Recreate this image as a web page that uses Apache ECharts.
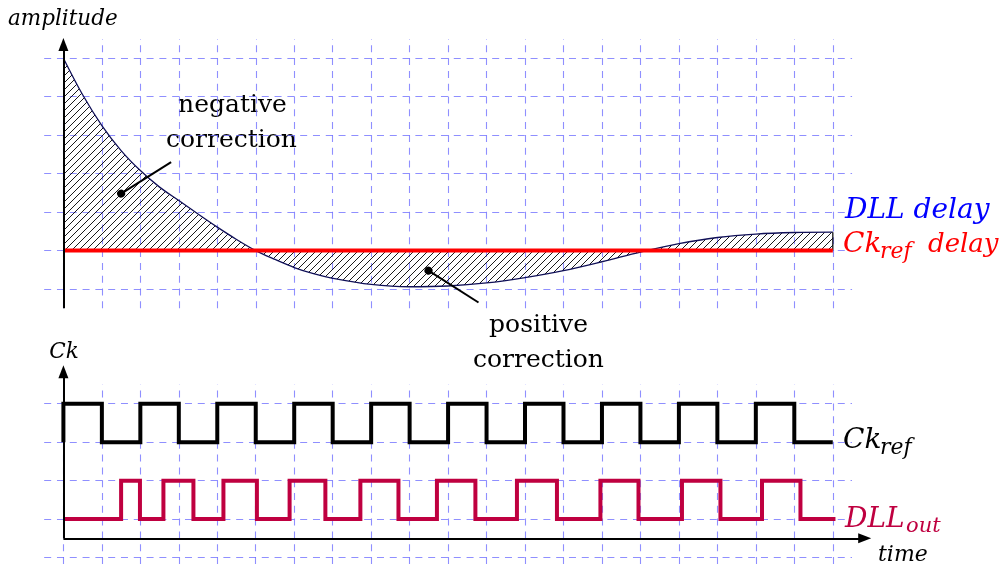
<!DOCTYPE html>
<html>
<head>
<meta charset="utf-8">
<script src="https://cdn.jsdelivr.net/npm/echarts@6/dist/echarts.min.js"></script>
<style>
  html, body { margin: 0; padding: 0; background: #ffffff; }
  #chart { width: 1003px; height: 566px; }
</style>
</head>
<body>
<div id="chart"></div>
<script>
// ---------- data ----------
// upper panel: DLL delay curve (x in time units, y in amplitude units)
const delayX   = [0, 0.5, 1, 1.5, 2, 2.5, 3, 3.5, 4, 4.5, 5, 5.5, 6, 6.5, 7, 8, 9, 10, 11, 12, 13, 14, 15, 16, 17, 18, 19, 20];
const dllDelay = [5.0, 4.05, 3.25, 2.6, 2.08, 1.65, 1.3, 0.95, 0.61, 0.29, 0.0, -0.23, -0.44, -0.6, -0.72, -0.88, -0.94, -0.92, -0.84, -0.7, -0.52, -0.29, -0.04, 0.18, 0.34, 0.43, 0.47, 0.48];
// reference delay (flat)
const refX     = [0, 20];
const refDelay = [0, 0];

// lower panel: clock edges
const ckStart   = 0;
const ckEdges   = [0, 1, 2, 3, 4, 5, 6, 7, 8, 9, 10, 11, 12, 13, 14, 15, 16, 17, 18, 19];
const ckEnd     = 20;
const ckLevels  = [2, 3];          // low, high
const dllStart  = 0;
const dllEdges  = [1.50, 1.99, 2.60, 3.38, 4.16, 5.03, 5.88, 6.81, 7.72, 8.71, 9.71, 10.71, 11.79, 12.83, 13.96, 14.95, 16.08, 17.08, 18.16, 19.16];
const dllEnd    = 20.07;
const dllLevels = [0, 1];          // low, high

// grid tick positions
const gridXTicks     = [0, 1, 2, 3, 4, 5, 6, 7, 8, 9, 10, 11, 12, 13, 14, 15, 16, 17, 18, 19, 20];
const gridYTicksUp   = [-1, 0, 1, 2, 3, 4, 5];
const gridYTicksLow  = [-1, 0, 1, 2, 3];

// ---------- helpers ----------
function pairs(xs, ys) { return xs.map((x, i) => [x, ys[i]]); }
function stepWave(start, edges, end, levels) {
  const pts = [[start, levels[0]]];
  let lv = 0;
  edges.forEach(e => { pts.push([e, levels[lv]]); lv = 1 - lv; pts.push([e, levels[lv]]); });
  pts.push([end, levels[lv]]);
  return pts;
}

// hatch pattern
const hatch = document.createElement('canvas');
hatch.width = 7; hatch.height = 7;
(function () {
  const c = hatch.getContext('2d');
  c.strokeStyle = '#000';
  c.lineWidth = 0.9;
  c.beginPath();
  c.moveTo(0, 7); c.lineTo(7, 0);
  c.moveTo(-1, 1); c.lineTo(1, -1);
  c.moveTo(6, 8); c.lineTo(8, 6);
  c.stroke();
})();

const gridColor = 'rgba(105,105,255,0.75)';
const dash = [7, 5.8];

function vLines(xs, y0, y1) {
  return xs.map(x => [{ coord: [x, y0] }, { coord: [x, y1] }]);
}
function hLines(ys, x0, x1) {
  return ys.map(y => [{ coord: [x0, y] }, { coord: [x1, y] }]);
}

const chart = echarts.init(document.getElementById('chart'), null, { renderer: 'canvas' });

const serifUp = '"DejaVu Serif", "Liberation Serif", serif';

function txt(x, y, text, size, color, italic, align) {
  return {
    type: 'text', x: x, y: y, silent: true,
    style: {
      text: text, fill: color, fontSize: size, fontFamily: serifUp,
      fontStyle: italic ? 'italic' : 'normal',
      align: align || 'left', verticalAlign: 'middle'
    }
  };
}

const option = {
  animation: false,
  backgroundColor: '#ffffff',
  grid: [
    { left: 44.17, top: 39.0, width: 807.9, height: 269.3, outerBoundsMode: 'none', containLabel: false },
    { left: 44.17, top: 346.0, width: 846.3, height: 230.8, outerBoundsMode: 'none', containLabel: false }
  ],
  xAxis: [
    { gridIndex: 0, type: 'value', min: -0.5, max: 20.5, show: false },
    { gridIndex: 1, type: 'value', min: -0.5, max: 21.5, show: false }
  ],
  yAxis: [
    { gridIndex: 0, type: 'value', min: -1.5, max: 5.5, show: false },
    { gridIndex: 1, type: 'value', min: -1.5, max: 4.5, show: false }
  ],
  series: [
    // grid lines upper
    {
      type: 'line', xAxisIndex: 0, yAxisIndex: 0, data: [], z: 1, silent: true,
      markLine: {
        z: 1, silent: true, symbol: 'none', label: { show: false },
        lineStyle: { color: gridColor, width: 1.1, type: dash },
        emphasis: { disabled: true },
        data: vLines(gridXTicks, -1.5, 5.5).concat(hLines(gridYTicksUp, -0.5, 20.5))
      }
    },
    // grid lines lower
    {
      type: 'line', xAxisIndex: 1, yAxisIndex: 1, data: [], z: 1, silent: true,
      markLine: {
        z: 1, silent: true, symbol: 'none', label: { show: false },
        lineStyle: { color: gridColor, width: 1.1, type: dash },
        emphasis: { disabled: true },
        data: vLines(gridXTicks, -1.5, 3.5).concat(hLines(gridYTicksLow, -0.5, 20.5))
      }
    },
    // DLL delay curve with hatched area
    {
      name: 'DLL delay', type: 'line', xAxisIndex: 0, yAxisIndex: 0, z: 3,
      data: pairs(delayX, dllDelay), smooth: 0.35, symbol: 'none', silent: true,
      lineStyle: { color: '#101058', width: 1.3 },
      areaStyle: { origin: 0, color: { image: hatch, repeat: 'repeat' }, opacity: 1 }
    },
    // closing edge at the right end of the hatched area
    {
      type: 'line', xAxisIndex: 0, yAxisIndex: 0, z: 3, symbol: 'none', silent: true,
      data: [[delayX[delayX.length - 1], 0], [delayX[delayX.length - 1], dllDelay[dllDelay.length - 1]]],
      lineStyle: { color: '#000', width: 1.2 }
    },
    // Ck_ref delay (red)
    {
      name: 'Ck_ref delay', type: 'line', xAxisIndex: 0, yAxisIndex: 0, z: 4,
      data: pairs(refX, refDelay), symbol: 'none', silent: true,
      lineStyle: { color: '#ff0000', width: 4 }
    },
    // axes and pointers upper
    {
      type: 'line', xAxisIndex: 0, yAxisIndex: 0, data: [], z: 6, silent: true,
      markLine: {
        z: 10, silent: true, label: { show: false }, emphasis: { disabled: true },
        data: [
          [{ coord: [0, -1.5], symbol: 'none' }, { coord: [0, 5.36], symbol: 'triangle', symbolSize: [10, 13] }],
          [{ coord: [1.5, 1.48], symbol: 'circle', symbolSize: 8 }, { coord: [2.8, 2.3], symbol: 'none' }],
          [{ coord: [9.49, -0.52], symbol: 'circle', symbolSize: 8 }, { coord: [10.79, -1.35], symbol: 'none' }]
        ],
        lineStyle: { color: '#000', width: 2, type: 'solid' },
        itemStyle: { color: '#000' }
      }
    },
    // Ck_ref wave
    {
      name: 'Ck_ref', type: 'line', xAxisIndex: 1, yAxisIndex: 1, z: 4,
      data: stepWave(ckStart, ckEdges, ckEnd, ckLevels), symbol: 'none', silent: true,
      lineStyle: { color: '#000000', width: 4, join: 'miter' }
    },
    // DLL_out wave
    {
      name: 'DLL_out', type: 'line', xAxisIndex: 1, yAxisIndex: 1, z: 4,
      data: stepWave(dllStart, dllEdges, dllEnd, dllLevels), symbol: 'none', silent: true,
      lineStyle: { color: '#bf0040', width: 4, join: 'miter' }
    },
    // axes lower
    {
      type: 'line', xAxisIndex: 1, yAxisIndex: 1, data: [], z: 6, silent: true,
      markLine: {
        z: 10, silent: true, label: { show: false }, emphasis: { disabled: true },
        data: [
          [{ coord: [0, -0.5], symbol: 'none' }, { coord: [0, 3.83], symbol: 'triangle', symbolSize: [10, 13] }],
          [{ coord: [0, -0.5], symbol: 'none' }, { coord: [20.83, -0.5], symbol: 'triangle', symbolSize: [10, 13] }]
        ],
        lineStyle: { color: '#000', width: 2, type: 'solid' },
        itemStyle: { color: '#000' }
      }
    }
  ],
  graphic: [
    txt(8, 19.7, 'amplitude', 21.5, '#000', true),
    txt(232.5, 105, 'negative', 25, '#000', false, 'center'),
    txt(231.5, 140.5, 'correction', 25, '#000', false, 'center'),
    txt(538.5, 325, 'positive', 25, '#000', false, 'center'),
    txt(538.5, 360.5, 'correction', 25, '#000', false, 'center'),
    txt(845, 211.2, 'DLL delay', 28, '#0000ff', true),
    txt(843, 245, 'Ck', 28, '#ff0000', true),
    txt(880, 252.7, 'ref', 22, '#ff0000', true),
    txt(928, 245.5, 'delay', 26, '#ff0000', true),
    txt(49.3, 352.7, 'Ck', 21.5, '#000', true),
    txt(843, 440.5, 'Ck', 28, '#000', true),
    txt(880, 448.2, 'ref', 22, '#000', true),
    txt(845, 520, 'DLL', 28, '#bf0040', true),
    txt(906, 526.9, 'out', 21, '#bf0040', true),
    txt(878, 555.2, 'time', 22, '#000', true)
  ]
};
chart.setOption(option);
</script>
</body>
</html>
